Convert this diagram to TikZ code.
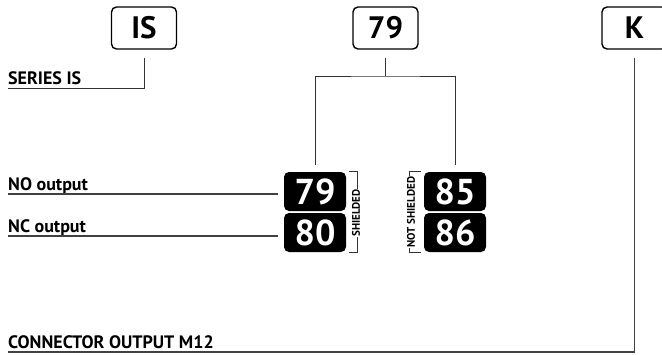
\documentclass[tikz,border=0pt]{standalone}
\usepackage{fontspec}
\setmainfont{PT Sans}
\usetikzlibrary{positioning}

\tikzset{
  codebox/.style={draw, line width=1.4pt, rounded corners=5pt,
    minimum width=65pt, minimum height=42pt, inner sep=0pt,
    font=\bfseries\fontsize{31}{31}\selectfont},
  pinbox/.style={fill=black, text=white, rounded corners=5pt,
    minimum width=62pt, minimum height=39pt, inner sep=0pt,
    font=\bfseries\fontsize{36}{36}\selectfont},
  lbl/.style={anchor=base west, inner sep=0pt,
    font=\bfseries\fontsize{18}{18}\selectfont},
  tag/.style={rotate=90, fill=white, inner sep=0.6pt,
    font=\bfseries\fontsize{11}{11}\selectfont},
  wire/.style={draw=black!80, line width=1pt},
  uline/.style={draw=black!75, line width=1.4pt}
}

\begin{document}
\begin{tikzpicture}[x=1pt,y=-1pt]
    \useasboundingbox (0,0) rectangle (662,354);

      \node(is)  at (144,28)   [codebox] {IS};
      \node(sel) at (385.5,28) [codebox] {79};
      \node(con) at (634.5,28) [codebox] {K};

      \node(p79) at (315,191.5) [pinbox] {79};
      \node(p80) at (315,232.5) [pinbox] {80};
      \node(p85) at (455,191.5) [pinbox] {85};
      \node(p86) at (455,232.5) [pinbox] {86};

      \node(series) at (8,84)  [lbl] {SERIES IS};
      \node(no)     at (8,190) [lbl] {NO output};
      \node(nc)     at (8,232) [lbl] {NC output};
      \node(m12)    at (8,348) [lbl] {CONNECTOR OUTPUT M12};

      \coordinate (seriesend) at (8,88);
      \coordinate (noend)     at (8,194);
      \coordinate (ncend)     at (8,236);
      \coordinate (m12end)    at (8,352);
      \coordinate (split)     at (385.5,76);

    % code letters down to their labels
    \draw[wire] ([yshift=-8pt]is.south) |- (seriesend);
    \draw[wire] ([yshift=-8pt]sel.south) -- (split);
    \draw[wire] ([yshift=7pt]p79.north) |- (split) -| ([yshift=7pt]p85.north);
    \draw[uline] ([yshift=-8pt]con.south) |- (m12end);

    \draw[uline] (noend) -- ([xshift=-6pt]noend -| p79.west);
    \draw[uline] (ncend) -- ([xshift=-6pt]ncend -| p80.west);

    % shield brackets
    \draw[wire, line width=0.8pt] ([xshift=3pt]p79.north east) -- ++(8,0) |- ([xshift=3pt]p80.south east);
    \draw[wire, line width=0.8pt] ([xshift=-3pt]p85.north west) -- ++(-11,0) |- ([xshift=-3pt]p86.south west);
      \node(shd)  at (356,213) [tag] {SHIELDED};
      \node(nshd) at (411,212) [tag] {NOT SHIELDED};
  \end{tikzpicture}
\end{document}
